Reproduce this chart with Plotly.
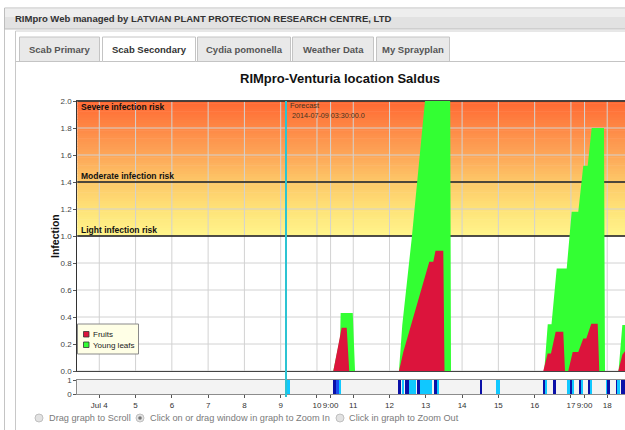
import plotly.graph_objects as go
from datetime import datetime

# ---------------- data ----------------
leaf_time = [
    "2014-07-03 09:00", "2014-07-10 10:48", "2014-07-10 15:20", "2014-07-10 15:40",
    "2014-07-10 23:40", "2014-07-11 01:10",
    "2014-07-12 06:15", "2014-07-12 08:26", "2014-07-12 14:39", "2014-07-12 23:27",
    "2014-07-13 04:00", "2014-07-13 16:00", "2014-07-13 16:40",
    "2014-07-16 06:20", "2014-07-16 08:40", "2014-07-16 11:09", "2014-07-16 14:35",
    "2014-07-16 21:12", "2014-07-17 00:30", "2014-07-17 04:52", "2014-07-17 08:10",
    "2014-07-17 11:05", "2014-07-17 13:43", "2014-07-17 21:52", "2014-07-17 22:32",
    "2014-07-18 07:30", "2014-07-18 10:00", "2014-07-18 14:00",
]
leaf_infection = [
    0, 0, 0.25, 0.43,
    0.43, 0,
    0, 0.34, 0.98, 2.0,
    2.45, 2.45, 0,
    0, 0.346, 0.346, 0.76,
    0.76, 1.18, 1.18, 1.52,
    1.52, 1.80, 1.80, 0,
    0, 0.34, 0.34,
]

fruit_time = [
    "2014-07-03 09:00", "2014-07-10 10:48", "2014-07-10 16:20", "2014-07-10 19:40",
    "2014-07-10 21:20",
    "2014-07-12 06:15", "2014-07-12 09:06", "2014-07-13 02:18", "2014-07-13 04:57",
    "2014-07-13 06:24", "2014-07-13 11:34", "2014-07-13 12:22",
    "2014-07-16 05:42", "2014-07-16 08:36", "2014-07-16 10:48", "2014-07-16 13:55",
    "2014-07-16 18:56", "2014-07-16 20:04",
    "2014-07-16 22:15", "2014-07-17 01:10", "2014-07-17 04:52", "2014-07-17 08:10",
    "2014-07-17 10:10", "2014-07-17 13:28", "2014-07-17 17:42", "2014-07-17 18:45",
    "2014-07-18 07:20", "2014-07-18 10:00", "2014-07-18 14:00",
]
fruit_infection = [
    0, 0, 0.32, 0.32,
    0,
    0, 0.14, 0.81, 0.81,
    0.89, 0.89, 0,
    0, 0.13, 0.13, 0.29,
    0.29, 0,
    0, 0.14, 0.14, 0.24,
    0.24, 0.35, 0.35, 0,
    0, 0.12, 0.18,
]

# leaf wetness strip: start, end, level (0 = dark, 1 = medium, 2 = light)
wet_start = [
    "2014-07-09 02:50", "2014-07-10 10:48", "2014-07-10 13:00", "2014-07-10 14:30",
    "2014-07-12 05:48", "2014-07-12 08:36", "2014-07-12 10:13", "2014-07-12 12:54",
    "2014-07-12 18:10", "2014-07-12 20:06", "2014-07-13 05:25", "2014-07-13 07:21",
    "2014-07-14 11:50", "2014-07-14 22:25",
    "2014-07-16 06:10", "2014-07-16 07:17", "2014-07-16 12:20",
    "2014-07-16 22:15", "2014-07-16 23:22", "2014-07-17 01:10",
    "2014-07-17 06:00", "2014-07-17 07:06", "2014-07-17 12:08", "2014-07-17 13:16",
    "2014-07-17 23:40", "2014-07-18 00:20", "2014-07-18 05:48", "2014-07-18 07:18",
    "2014-07-18 09:36",
]
wet_end = [
    "2014-07-09 06:36", "2014-07-10 13:00", "2014-07-10 14:30", "2014-07-10 16:20",
    "2014-07-12 08:00", "2014-07-12 09:36", "2014-07-12 12:54", "2014-07-12 17:30",
    "2014-07-12 20:06", "2014-07-13 04:06", "2014-07-13 07:21", "2014-07-13 08:42",
    "2014-07-14 13:22", "2014-07-15 01:04",
    "2014-07-16 07:17", "2014-07-16 08:22", "2014-07-16 14:35",
    "2014-07-16 23:22", "2014-07-17 01:10", "2014-07-17 02:00",
    "2014-07-17 07:06", "2014-07-17 08:10", "2014-07-17 13:16", "2014-07-17 14:24",
    "2014-07-18 00:20", "2014-07-18 01:50", "2014-07-18 07:18", "2014-07-18 08:24",
    "2014-07-18 11:46",
]
wet_level = [
    2, 0, 1, 2,
    0, 2, 0, 2,
    0, 2, 0, 2,
    0, 2,
    0, 2, 0,
    2, 0, 2,
    0, 2, 0, 2,
    2, 0, 0, 2,
    0,
]

tick_time = [
    "2014-07-04", "2014-07-05", "2014-07-06", "2014-07-07", "2014-07-08", "2014-07-09",
    "2014-07-10", "2014-07-10 09:00", "2014-07-11", "2014-07-12", "2014-07-13",
    "2014-07-14", "2014-07-15", "2014-07-16", "2014-07-17", "2014-07-17 09:00",
    "2014-07-18",
]
tick_text = ["Jul 4", "5", "6", "7", "8", "9", "10", "9:00", "11", "12", "13",
             "14", "15", "16", "17", "9:00", "18"]
infection_ticks = [0.0, 0.2, 0.4, 0.6, 0.8, 1.0, 1.2, 1.4, 1.6, 1.8, 2.0]
risk_levels = [2.0, 1.4, 1.0]
risk_labels = ["Severe infection risk", "Moderate infection risk", "Light infection risk"]
forecast_time = "2014-07-09 03:30"
forecast_label = "2014-07-09 03:30:00.0"
x_range = ["2014-07-03 09:27", "2014-07-18 11:46"]
series_names = ["Fruits", "Young leafs"]
tab_names = ["Scab Primary", "Scab Secondary", "Cydia pomonella", "Weather Data", "My Sprayplan"]
header_text = "RIMpro Web managed by LATVIAN PLANT PROTECTION RESEARCH CENTRE, LTD"
chart_title = "RIMpro-Venturia location Saldus"
radio_labels = ["Drag graph to Scroll", "Click on or drag window in graph to Zoom In",
                "Click in graph to Zoom Out"]

# ---------------- styling ----------------
W, H = 625, 430
FONT = "Liberation Sans, Arial, sans-serif"
GREEN = "#33FF33"
RED = "#DC143C"
GRID = "#d2d2d2"
WET_COLORS = ["#0A10A8", "#1E4EF0", "#10C8FF"]
GRAD_STOPS = [(1.0, (255, 245, 140)), (1.2, (254, 226, 120)), (1.4, (253, 200, 104)),
              (1.6, (253, 166, 88)), (1.8, (254, 136, 70)), (2.0, (255, 104, 50))]


def X(px):
    return px / W


def Y(py):
    return 1 - py / H


def grad_color(v):
    for (a, ca), (b, cb) in zip(GRAD_STOPS[:-1], GRAD_STOPS[1:]):
        if a <= v <= b:
            t = (v - a) / (b - a)
            c = [round(ca[i] + (cb[i] - ca[i]) * t) for i in range(3)]
            return "rgb(%d,%d,%d)" % tuple(c)
    return "rgb(255,104,50)"


fig = go.Figure()

fig.add_trace(go.Scatter(
    x=leaf_time, y=leaf_infection, name=series_names[1], mode="lines",
    fill="tozeroy", fillcolor=GREEN, line=dict(width=0, color=GREEN),
    xaxis="x", yaxis="y", showlegend=False, hoverinfo="skip"))
fig.add_trace(go.Scatter(
    x=fruit_time, y=fruit_infection, name=series_names[0], mode="lines",
    fill="tozeroy", fillcolor=RED, line=dict(width=0, color=RED),
    xaxis="x", yaxis="y", showlegend=False, hoverinfo="skip"))

fmt = "%Y-%m-%d %H:%M"
starts = [datetime.strptime(s, fmt) for s in wet_start]
ends = [datetime.strptime(e, fmt) for e in wet_end]
centers = [s + (e - s) / 2 for s, e in zip(starts, ends)]
widths = [(e - s).total_seconds() * 1000 for s, e in zip(starts, ends)]
fig.add_trace(go.Bar(
    x=centers, y=[1] * len(centers), width=widths,
    marker=dict(color=[WET_COLORS[l] for l in wet_level], line=dict(width=0)),
    xaxis="x2", yaxis="y2", showlegend=False, hoverinfo="skip"))

shapes = []
# gradient risk background
n = 50
for i in range(n):
    v0 = 1.0 + i / n
    v1 = 1.0 + (i + 1) / n
    shapes.append(dict(type="rect", xref="x domain", yref="y", x0=0, x1=1,
                       y0=v0, y1=min(v1 + 0.004, 2.0), fillcolor=grad_color((v0 + v1) / 2),
                       line=dict(width=0), layer="below"))
# grid lines (drawn as shapes so the risk lines sit on top of them)
for v in infection_ticks:
    shapes.append(dict(type="line", xref="x domain", yref="y", x0=0, x1=1, y0=v, y1=v,
                       line=dict(color=GRID, width=1), layer="below"))
for t in tick_time:
    shapes.append(dict(type="line", xref="x", yref="y domain", x0=t, x1=t, y0=0, y1=1,
                       line=dict(color=GRID, width=1), layer="below"))
# risk lines
for lv in risk_levels:
    shapes.append(dict(type="line", xref="x domain", yref="y", x0=0, x1=1, y0=lv, y1=lv,
                       line=dict(color="#1a1a1a", width=1.5), layer="below"))
# strip background
shapes.append(dict(type="rect", xref="x2 domain", yref="y2 domain", x0=0, x1=1, y0=0, y1=1,
                   fillcolor="#f3f3f3", line=dict(width=0), layer="below"))
# forecast line
shapes.append(dict(type="line", xref="paper", yref="paper", x0=X(286), x1=X(286),
                   y0=Y(397), y1=Y(101), line=dict(color="#2CC4D2", width=2), layer="above"))

# legend box
shapes.append(dict(type="rect", xref="paper", yref="paper", x0=X(77.5), x1=X(138.5),
                   y0=Y(354), y1=Y(324), fillcolor="#FFFFE6",
                   line=dict(color="#8a8a8a", width=1), layer="above"))
shapes.append(dict(type="rect", xref="paper", yref="paper", x0=X(83.5), x1=X(89),
                   y0=Y(337), y1=Y(331.5), fillcolor=RED,
                   line=dict(color="#333", width=0.8), layer="above"))
shapes.append(dict(type="rect", xref="paper", yref="paper", x0=X(83.5), x1=X(89),
                   y0=Y(347.5), y1=Y(342), fillcolor=GREEN,
                   line=dict(color="#333", width=0.8), layer="above"))

# page chrome
shapes.append(dict(type="line", xref="paper", yref="paper", x0=X(4.5), x1=X(4.5),
                   y0=Y(8), y1=0, line=dict(color="#c4c4c4", width=1), layer="above"))
shapes.append(dict(type="rect", xref="paper", yref="paper", x0=X(4.5), x1=X(626),
                   y0=Y(29), y1=Y(8), fillcolor="#e2e2e2",
                   line=dict(color="#bdbdbd", width=1), layer="above"))
shapes.append(dict(type="rect", xref="paper", yref="paper", x0=X(5), x1=X(626),
                   y0=Y(17), y1=Y(8.5), fillcolor="#eeeeee", line=dict(width=0),
                   layer="above"))
shapes.append(dict(type="line", xref="paper", yref="paper", x0=X(15.5), x1=X(15.5),
                   y0=Y(31), y1=0, line=dict(color="#c8c8c8", width=1), layer="above"))
shapes.append(dict(type="line", xref="paper", yref="paper", x0=X(15.5), x1=X(626),
                   y0=Y(31), y1=Y(31), line=dict(color="#d0d0d0", width=1), layer="above"))
tab_left = [19.5, 102.5, 197.5, 292.5, 376.5]
tab_right = [99.5, 195.5, 290.5, 373.5, 449.5]
for i, name in enumerate(tab_names):
    active = (i == 1)
    shapes.append(dict(type="rect", xref="paper", yref="paper", x0=X(tab_left[i]),
                       x1=X(tab_right[i]), y0=Y(61.5), y1=Y(37),
                       fillcolor="#ffffff" if active else "#e9e9e9",
                       line=dict(color="#c4c4c4", width=1), layer="above"))
shapes.append(dict(type="line", xref="paper", yref="paper", x0=X(15.5), x1=X(102.5),
                   y0=Y(61.5), y1=Y(61.5), line=dict(color="#c4c4c4", width=1), layer="above"))
shapes.append(dict(type="line", xref="paper", yref="paper", x0=X(195.5), x1=X(626),
                   y0=Y(61.5), y1=Y(61.5), line=dict(color="#c4c4c4", width=1), layer="above"))
# radio buttons
radio_x = [39, 140, 340]
for i, rx in enumerate(radio_x):
    shapes.append(dict(type="circle", xref="paper", yref="paper", x0=X(rx - 4), x1=X(rx + 4),
                       y0=Y(422), y1=Y(414), fillcolor="#e2e2e2",
                       line=dict(color="#c0c0c0", width=1), layer="above"))
    if i == 1:
        shapes.append(dict(type="circle", xref="paper", yref="paper", x0=X(rx - 1.8),
                           x1=X(rx + 1.8), y0=Y(419.8), y1=Y(416.2), fillcolor="#777",
                           line=dict(width=0), layer="above"))

annotations = []
annotations.append(dict(text=header_text, xref="paper", yref="paper", x=X(13), y=Y(18.5),
                        xanchor="left", yanchor="middle", showarrow=False,
                        font=dict(family=FONT, size=9.5, color="#333333", weight="bold")))
tab_center = [(a + b) / 2 for a, b in zip(tab_left, tab_right)]
for i, name in enumerate(tab_names):
    annotations.append(dict(text=name, xref="paper", yref="paper", x=X(tab_center[i]),
                            y=Y(49), xanchor="center", yanchor="middle", showarrow=False,
                            font=dict(family=FONT, size=9.5,
                                      color="#333333" if i == 1 else "#555555",
                                      weight="bold")))
annotations.append(dict(text=chart_title, xref="paper", yref="paper", x=X(340), y=Y(78),
                        xanchor="center", yanchor="middle", showarrow=False,
                        font=dict(family=FONT, size=13, color="#111111", weight="bold")))
annotations.append(dict(text="Infection", xref="paper", yref="paper", x=X(55), y=Y(236),
                        xanchor="center", yanchor="middle", showarrow=False, textangle=-90,
                        font=dict(family=FONT, size=10.5, color="#111111", weight="bold")))
for lv, lab in zip(risk_levels, risk_labels):
    annotations.append(dict(text=lab, xref="paper", yref="y", x=X(79.5), y=lv,
                            xanchor="left", yanchor="top" if lv >= 2.0 else "bottom",
                            showarrow=False, borderpad=0,
                            font=dict(family=FONT, size=8.5, color="#111111", weight="bold")))
annotations.append(dict(text="Forecast", xref="paper", yref="paper", x=X(288), y=Y(105),
                        xanchor="left", yanchor="middle", showarrow=False,
                        font=dict(family=FONT, size=7.5, color="#443322")))
annotations.append(dict(text=forecast_label, xref="paper", yref="paper", x=X(289.5),
                        y=Y(115), xanchor="left", yanchor="middle", showarrow=False,
                        font=dict(family=FONT, size=7.2, color="#443322")))
annotations.append(dict(text=series_names[0], xref="paper", yref="paper", x=X(90.5),
                        y=Y(334.5), xanchor="left", yanchor="middle", showarrow=False,
                        font=dict(family=FONT, size=8, color="#222")))
annotations.append(dict(text=series_names[1], xref="paper", yref="paper", x=X(90.5),
                        y=Y(345), xanchor="left", yanchor="middle", showarrow=False,
                        font=dict(family=FONT, size=8, color="#222")))
radio_text_x = [47, 148, 347]
for tx, lab in zip(radio_text_x, radio_labels):
    annotations.append(dict(text=lab, xref="paper", yref="paper", x=X(tx), y=Y(418),
                            xanchor="left", yanchor="middle", showarrow=False,
                            font=dict(family=FONT, size=9.2, color="#7a7a7a")))

x_dom = [X(77.3), 1.0]
fig.update_layout(
    width=W, height=H, margin=dict(l=0, r=0, t=0, b=0, pad=0),
    paper_bgcolor="white", plot_bgcolor="white",
    font=dict(family=FONT, size=8, color="#444"),
    showlegend=False, bargap=0,
    xaxis=dict(domain=x_dom, range=x_range, type="date", anchor="y",
               tickvals=tick_time, showticklabels=False, ticks="",
               showgrid=False,
               showline=True, mirror=True, linecolor="#444", linewidth=1,
               zeroline=False, automargin=False),
    yaxis=dict(domain=[Y(371), Y(101)], range=[0, 2], anchor="x",
               tickvals=infection_ticks, ticktext=["%.1f" % v for v in infection_ticks],
               ticks="outside", ticklen=3, tickcolor="#555",
               tickfont=dict(size=8, color="#444", family=FONT),
               showgrid=False,
               showline=True, linecolor="#333", linewidth=1,
               zeroline=False, automargin=False),
    xaxis2=dict(domain=x_dom, range=x_range, type="date", anchor="y2", matches="x",
                tickvals=tick_time, ticktext=tick_text, ticks="outside", ticklen=3,
                tickangle=0,
                tickcolor="#555", tickfont=dict(size=8, color="#333", family=FONT),
                showgrid=False, showline=True, mirror=True, linecolor="#8c8c8c",
                linewidth=1, zeroline=False, automargin=False),
    yaxis2=dict(domain=[Y(394), Y(380)], range=[0, 1], anchor="x2",
                tickvals=[0, 1], ticktext=["0", "1"], ticks="outside", ticklen=3,
                tickcolor="#555", tickfont=dict(size=8, color="#444", family=FONT),
                showgrid=False, showline=True, linecolor="#8c8c8c", linewidth=1,
                zeroline=False, automargin=False),
    shapes=shapes, annotations=annotations,
)

fig.write_html("out.html", config={"displayModeBar": False},
               post_script="document.body.style.margin='0';document.body.style.overflow='hidden';")
